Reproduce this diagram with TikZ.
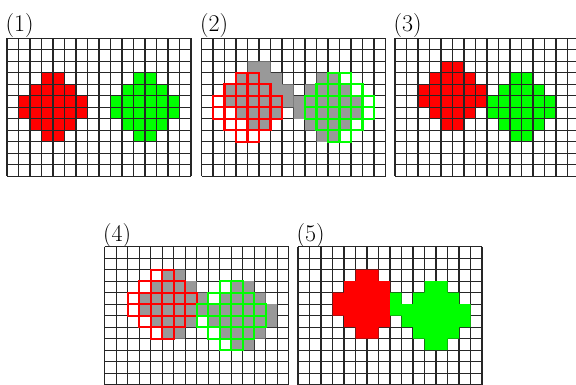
\documentclass[tikz,border=0pt]{standalone}
\begin{document}
\begin{tikzpicture}[x=1pt,y=-1pt,
  gridline/.style={line width=1.4pt,black!85},
  redline/.style={line width=2.1pt,red},
  greenline/.style={line width=2.1pt,green},
  shadefill/.style={fill=black!40},
  lbl/.style={anchor=base west,inner sep=0pt,font=\fontsize{24}{28}\selectfont}]
\useasboundingbox (0,0) rectangle (576,385);
\clip (0,0) rectangle (576,385);
\def\shapeA{3/3/4,4/2/5,5/1/6,6/1/6,7/2/5,8/3/4}
\def\shapeB{3/11/12,4/10/13,5/9/14,6/9/14,7/10/13,8/11/12}
\newcommand{\cellgrid}{%
  \foreach \i in {0,...,16} {\draw[gridline] (\i,0) -- (\i,12);}
  \foreach \j in {0,...,12} {\draw[gridline] (0,\j) -- (16,\j);}}
% ---------- panel 1
\node[lbl] (l1) at (5.5,31.3) {(1)};
\begin{scope}[shift={(7,38.3)},x=11.5pt,y=-11.5pt]
  \fill[red] \foreach \r/\a/\b in \shapeA {(\a,\r) rectangle (\b+1,\r+1)};
  \fill[green] \foreach \r/\a/\b in \shapeB {(\a,\r) rectangle (\b+1,\r+1)};
  \cellgrid
\end{scope}
% ---------- panel 2
\node[lbl] (l2) at (200,31.3) {(2)};
\begin{scope}[shift={(201.5,38.3)},x=11.5pt,y=-11.5pt]
  \cellgrid
  \fill[shadefill] \foreach \r/\a/\b in \shapeA {(\a+1,\r-1) rectangle (\b+2,\r)};
  \fill[shadefill] \foreach \r/\a/\b in \shapeB {(\a-1,\r) rectangle (\b,\r+1)};
  \foreach \r/\a/\b in \shapeA {\foreach \c in {\a,...,\b} {\draw[redline] (\c,\r) rectangle ++(1,1);}}
  \foreach \r/\a/\b in \shapeB {\foreach \c in {\a,...,\b} {\draw[greenline] (\c,\r) rectangle ++(1,1);}}
\end{scope}
% ---------- panel 3
\node[lbl] (l3) at (393.5,31.3) {(3)};
\begin{scope}[shift={(395,38.3)},x=11.5pt,y=-11.5pt]
  \fill[red] \foreach \r/\a/\b in \shapeA {(\a+1,\r-1) rectangle (\b+2,\r)};
  \fill[green] \foreach \r/\a/\b in \shapeB {(\a-1,\r) rectangle (\b,\r+1)};
  \cellgrid
\end{scope}
% ---------- panel 4
\node[lbl] (l4) at (103,241) {(4)};
\begin{scope}[shift={(104.7,246.7)},x=11.5pt,y=-11.5pt]
  \cellgrid
  \fill[shadefill] \foreach \r/\a/\b in \shapeA {(\a+2,\r-1) rectangle (\b+3,\r)};
  \fill[shadefill] \foreach \r/\a/\b in \shapeB {(\a,\r) rectangle (\b+1,\r+1)};
  \foreach \r/\a/\b in \shapeA {\foreach \c in {\a,...,\b} {\draw[redline] (\c+1,\r-1) rectangle ++(1,1);}}
  \foreach \r/\a/\b in \shapeB {\foreach \c in {\a,...,\b} {\draw[greenline] (\c-1,\r) rectangle ++(1,1);}}
\end{scope}
% ---------- panel 5
\node[lbl] (l5) at (296.5,241) {(5)};
\begin{scope}[shift={(298,246.7)},x=11.5pt,y=-11.5pt]
  \cellgrid
  \fill[red] (5,2) rectangle (7,3) (4,3) rectangle (8,4) (3,4) rectangle (8,6)
             (4,6) rectangle (8,7) (5,7) rectangle (7,8);
  \fill[green] \foreach \r/\a/\b in \shapeB {(\a,\r) rectangle (\b+1,\r+1)}
             (8,4) rectangle (9,6);
\end{scope}
\end{tikzpicture}
\end{document}
